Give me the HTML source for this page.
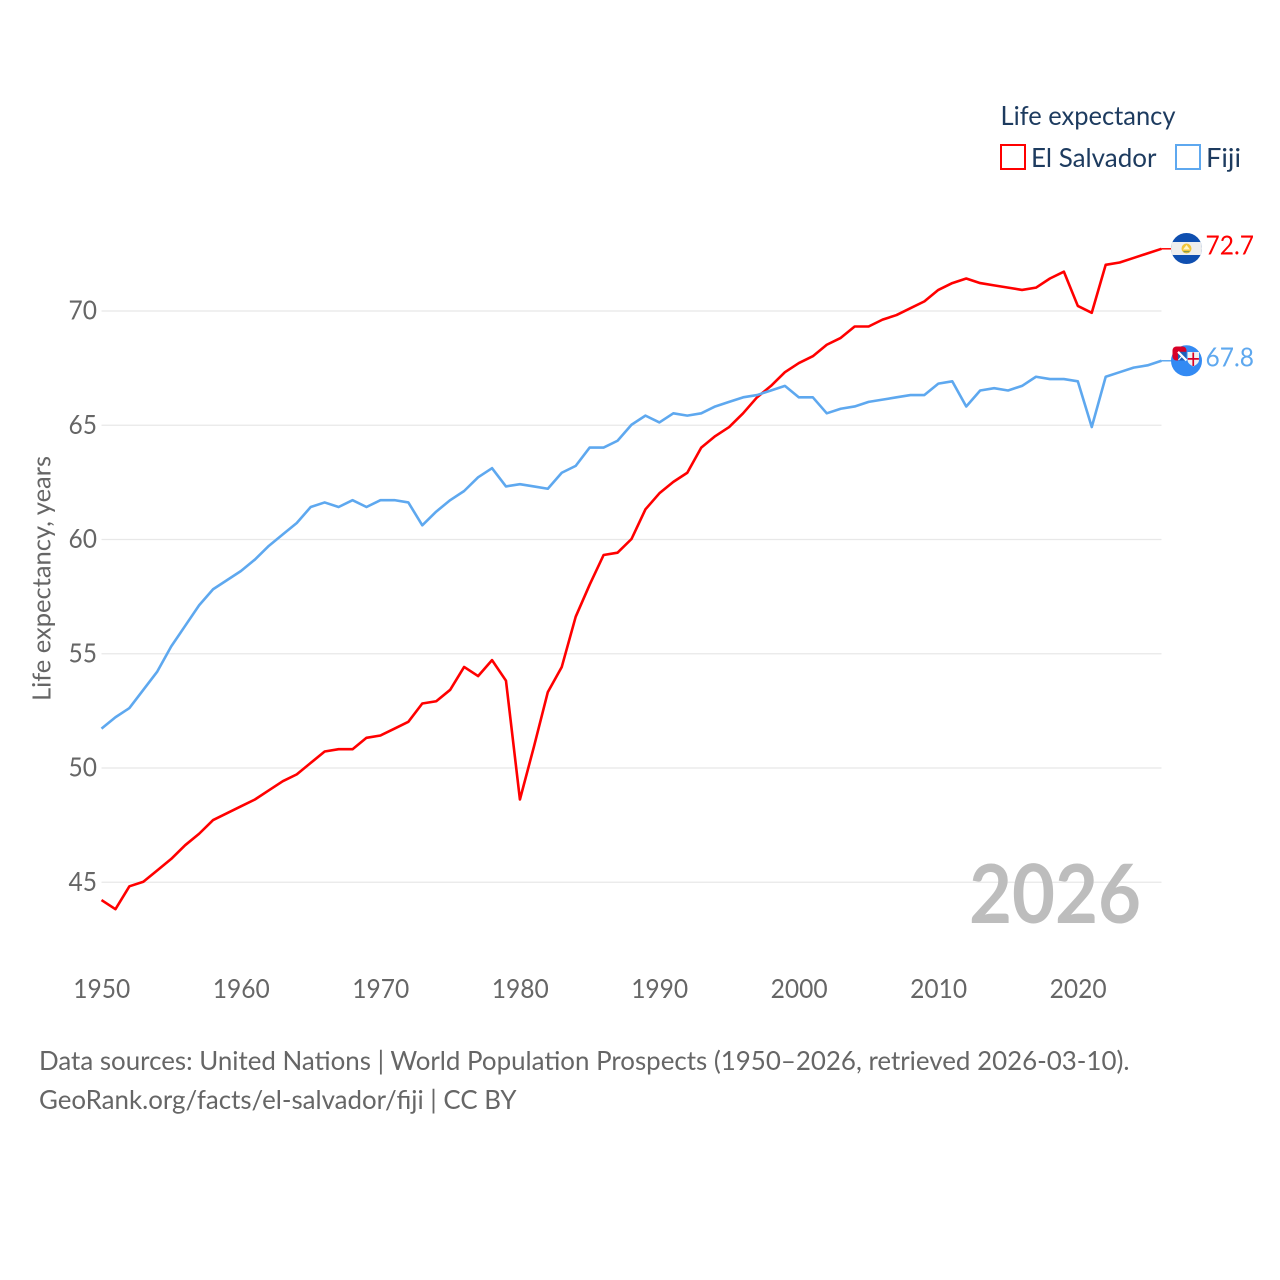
<!DOCTYPE html>
<html lang="en">
<head>
<meta charset="utf-8">
<title>Life expectancy: El Salvador vs Fiji</title>
<style>
html,body{margin:0;padding:0;background:#fff;width:1280px;height:1280px;overflow:hidden}
svg{display:block;font-family:"Lato","Carlito","Liberation Sans",sans-serif}
</style>
</head>
<body>
<svg id="chart" width="1280" height="1280" viewBox="0 0 1280 1280" xmlns="http://www.w3.org/2000/svg">
  <defs>
    <clipPath id="clip-sv"><circle cx="1186.5" cy="248.5" r="15.5"/></clipPath>
    <clipPath id="clip-fj"><circle cx="1186.5" cy="360.8" r="15.5"/></clipPath>
  </defs>
  <g id="grid"></g>
  <g id="y-ticks"></g>
  <g id="x-ticks"></g>
  <text transform="translate(50.5,701) rotate(-90)" font-size="25.5" fill="#666" textLength="245" lengthAdjust="spacingAndGlyphs">Life expectancy, years</text>
  <text x="969" y="923" font-size="81" font-weight="700" fill="#bdbdbd" textLength="172" lengthAdjust="spacingAndGlyphs">2026</text>
  <g id="series"></g>

  <g>
    <text x="1000.5" y="125" font-size="26" fill="#1d3b5f" textLength="175" lengthAdjust="spacingAndGlyphs">Life expectancy</text>
    <g>
      <rect x="1001" y="145" width="24" height="24" fill="#fff" stroke="#ff0000" stroke-width="2"/>
      <text x="1031" y="167" font-size="26" fill="#1d3b5f" textLength="125.5" lengthAdjust="spacingAndGlyphs">El Salvador</text>
    </g>
    <g>
      <rect x="1176" y="145" width="24" height="24" fill="#fff" stroke="#5ea8ef" stroke-width="2"/>
      <text x="1206" y="167" font-size="26" fill="#1d3b5f" textLength="35" lengthAdjust="spacingAndGlyphs">Fiji</text>
    </g>
  </g>

  <g clip-path="url(#clip-sv)">
    <rect x="1170" y="232" width="34" height="33" fill="#0f4fb0"/>
    <rect x="1170" y="242" width="34" height="13" fill="#eeeeee"/>
    <circle cx="1186.5" cy="248.5" r="5" fill="#f0c53a"/>
    <path d="M1183 249.5h7l-3.5 -4.5z" fill="#fff6c8"/>
    <path d="M1183.5 251h6v1.2h-6z" fill="#8a9a4a"/>
  </g>
  <g>
    <g clip-path="url(#clip-fj)">
      <rect x="1170" y="344" width="34" height="34" fill="#338af3"/>
      <path d="M1187.5 352h11.5v8c0 3 -3 5 -5.8 6.5c-2.7 -1.5 -5.7 -3.5 -5.7 -6.5z" fill="#f0f0f0"/>
      <path d="M1192.4 352.5h1.7v13.5h-1.7zM1187.7 358h11.2v1.7h-11.2z" fill="#d80027"/>
    </g>
    <rect x="1172.5" y="346.5" width="14" height="14" rx="4" fill="#d80027"/>
    <rect x="1178" y="351.8" width="8.5" height="8.7" fill="#1f5fb8"/>
    <path d="M1178 351.8l8.5 8.7" stroke="#fff" stroke-width="2.2"/>
    <path d="M1178.5 360l3.5 -4" stroke="#fff" stroke-width="1"/>
  </g>

  <text x="39" y="1070" font-size="26.5" fill="#666" textLength="1090.5" lengthAdjust="spacingAndGlyphs">Data sources: United Nations | World Population Prospects (1950–2026, retrieved 2026-03-10).</text>
  <text x="39" y="1109" font-size="26.5" fill="#666" textLength="477.5" lengthAdjust="spacingAndGlyphs">GeoRank.org/facts/el-salvador/fiji | CC BY</text>
</svg>
<script>
const startYear = 1950;
const endYear = 2026;
const yTickValues = [45, 50, 55, 60, 65, 70];
const xTickValues = [1950, 1960, 1970, 1980, 1990, 2000, 2010, 2020];
const elSalvadorValues = [44.2,43.8,44.8,45.0,45.5,46.0,46.6,47.1,47.7,48.0,48.3,48.6,49.0,49.4,49.7,50.2,50.7,50.8,50.8,51.3,51.4,51.7,52.0,52.8,52.9,53.4,54.4,54.0,54.7,53.8,48.6,50.9,53.3,54.4,56.6,58.0,59.3,59.4,60.0,61.3,62.0,62.5,62.9,64.0,64.5,64.9,65.5,66.2,66.7,67.3,67.7,68.0,68.5,68.8,69.3,69.3,69.6,69.8,70.1,70.4,70.9,71.2,71.4,71.2,71.1,71.0,70.9,71.0,71.4,71.7,70.2,69.9,72.0,72.1,72.3,72.5,72.7];
const fijiValues = [51.7,52.2,52.6,53.4,54.2,55.3,56.2,57.1,57.8,58.2,58.6,59.1,59.7,60.2,60.7,61.4,61.6,61.4,61.7,61.4,61.7,61.7,61.6,60.6,61.2,61.7,62.1,62.7,63.1,62.3,62.4,62.3,62.2,62.9,63.2,64.0,64.0,64.3,65.0,65.4,65.1,65.5,65.4,65.5,65.8,66.0,66.2,66.3,66.5,66.7,66.2,66.2,65.5,65.7,65.8,66.0,66.1,66.2,66.3,66.3,66.8,66.9,65.8,66.5,66.6,66.5,66.7,67.1,67.0,67.0,66.9,64.9,67.1,67.3,67.5,67.6,67.8];

const NS = 'http://www.w3.org/2000/svg';
const plotLeft = 101.5;
const plotRight = 1161.5;
const y70 = 311;
const pxPerUnit = 22.85;
const lineOffset = -0.5;

function xScale(year) {
  return plotLeft + (year - startYear) * (plotRight - plotLeft) / (endYear - startYear);
}
function yScale(value) {
  return y70 + (70 - value) * pxPerUnit;
}
function make(tag, parent) {
  const el = document.createElementNS(NS, tag);
  parent.appendChild(el);
  return el;
}

const gridGroup = document.getElementById('grid');
const yGroup = document.getElementById('y-ticks');
const xGroup = document.getElementById('x-ticks');
const seriesGroup = document.getElementById('series');
const root = document.getElementById('chart');

yTickValues.forEach(function (tick) {
  const line = make('line', gridGroup);
  
  
  line.setAttribute('x1', plotLeft);
  line.setAttribute('x2', plotRight);
  line.setAttribute('y1', yScale(tick));
  line.setAttribute('y2', yScale(tick));
  line.setAttribute('stroke', '#e8e8e8');
  line.setAttribute('stroke-width', '1.2');

  const label = make('text', yGroup);
  
  
  label.setAttribute('x', 97);
  label.setAttribute('y', yScale(tick) + 8.5);
  label.setAttribute('text-anchor', 'end');
  label.setAttribute('font-size', '26');
  label.setAttribute('fill', '#666');
  label.setAttribute('textLength', '28.5');
  label.setAttribute('lengthAdjust', 'spacingAndGlyphs');
  label.textContent = tick;
});

xTickValues.forEach(function (tick) {
  const label = make('text', xGroup);
  
  
  label.setAttribute('x', xScale(tick) + 0.3);
  label.setAttribute('y', 998);
  label.setAttribute('text-anchor', 'middle');
  label.setAttribute('font-size', '26');
  label.setAttribute('fill', '#666');
  label.setAttribute('textLength', '57');
  label.setAttribute('lengthAdjust', 'spacingAndGlyphs');
  label.textContent = tick;
});

function drawSeries(values, color, slug) {
  const d = values.map(function (v, i) {
    return (i ? 'L' : 'M') + xScale(startYear + i).toFixed(2) + ' ' + (yScale(v) + lineOffset).toFixed(2);
  }).join('');
  const path = make('path', seriesGroup);
  
  
  path.setAttribute('d', d);
  path.setAttribute('fill', 'none');
  path.setAttribute('stroke', color);
  path.setAttribute('stroke-width', '2.6');
  path.setAttribute('stroke-linejoin', 'round');

  const last = values[values.length - 1];
  const connector = make('line', seriesGroup);
  
  
  connector.setAttribute('x1', xScale(endYear));
  connector.setAttribute('x2', 1172);
  connector.setAttribute('y1', yScale(last) + lineOffset);
  connector.setAttribute('y2', yScale(last) + lineOffset);
  connector.setAttribute('stroke', color);
  connector.setAttribute('stroke-width', '1.5');

  const label = make('text', root);
  
  
  label.setAttribute('x', 1205.5);
  label.setAttribute('y', yScale(last) + 5);
  label.setAttribute('font-size', '26');
  label.setAttribute('fill', color);
  label.setAttribute('textLength', '48.5');
  label.setAttribute('lengthAdjust', 'spacingAndGlyphs');
  label.textContent = last.toFixed(1);
}

drawSeries(elSalvadorValues, '#ff0000', 'el-salvador');
drawSeries(fijiValues, '#5ea8ef', 'fiji');
</script>
</body>
</html>
